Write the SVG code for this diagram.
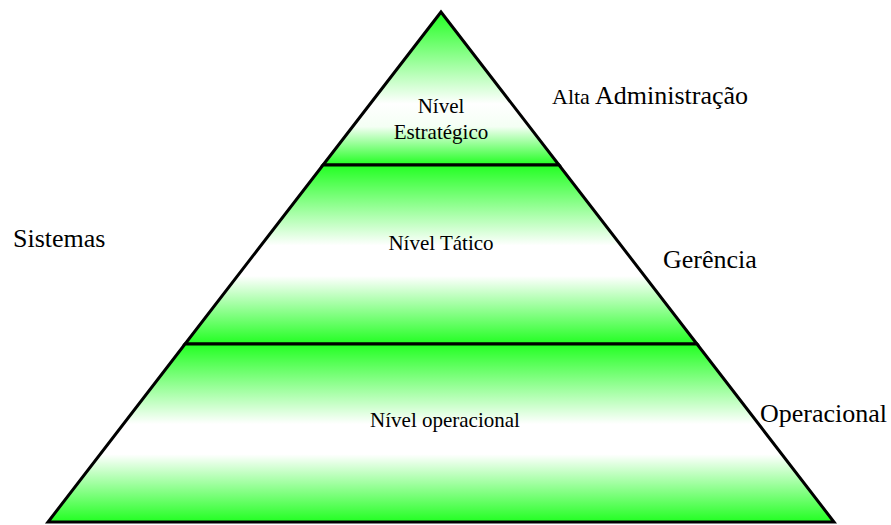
<svg xmlns="http://www.w3.org/2000/svg" width="891" height="525" viewBox="0 0 891 525">
  <defs>
    <linearGradient id="band" x1="0" y1="0" x2="0" y2="1">
      <stop offset="0" stop-color="#22ff22"/>
      <stop offset="0.45" stop-color="#ffffff"/>
      <stop offset="0.62" stop-color="#ffffff"/>
      <stop offset="1" stop-color="#22ff22"/>
    </linearGradient>
    <linearGradient id="bandTop" x1="0" y1="0" x2="0" y2="1">
      <stop offset="0" stop-color="#22ff22"/>
      <stop offset="0.6" stop-color="#ffffff"/>
      <stop offset="0.75" stop-color="#f4fff4"/>
      <stop offset="1" stop-color="#22ff22"/>
    </linearGradient>
  </defs>
  <style>
    .band { stroke: #000; stroke-width: 3; stroke-linejoin: miter; }
    .inner { font-family: "Liberation Serif", "Times New Roman", serif; font-size: 21px; fill: #000; text-anchor: middle; }
    .outer { font-family: "Liberation Serif", "Times New Roman", serif; font-size: 26px; fill: #000; }
  </style>
  <rect width="891" height="525" fill="#ffffff"/>
  <g id="nivel-estrategico">
    <polygon class="band" fill="url(#bandTop)" points="441,12 323,165 559,165"/>
    <text class="inner" x="441" y="113">Nível</text>
    <text class="inner" x="441" y="139">Estratégico</text>
  </g>
  <g id="nivel-tatico">
    <polygon class="band" fill="url(#band)" points="323,165 559,165 697,344 185,344"/>
    <text class="inner" x="441" y="250">Nível Tático</text>
  </g>
  <g id="nivel-operacional">
    <polygon class="band" fill="url(#band)" points="185,344 697,344 834,522 48,522"/>
    <text class="inner" x="445" y="427">Nível operacional</text>
  </g>
  <g id="connectors"></g>
  <g id="labels">
    <text class="outer" x="552" y="104"><tspan font-size="22">Alta</tspan> Administração</text>
    <text class="outer" x="13" y="247">Sistemas</text>
    <text class="outer" x="663" y="268">Gerência</text>
    <text class="outer" x="760" y="422">Operacional</text>
  </g>
</svg>
